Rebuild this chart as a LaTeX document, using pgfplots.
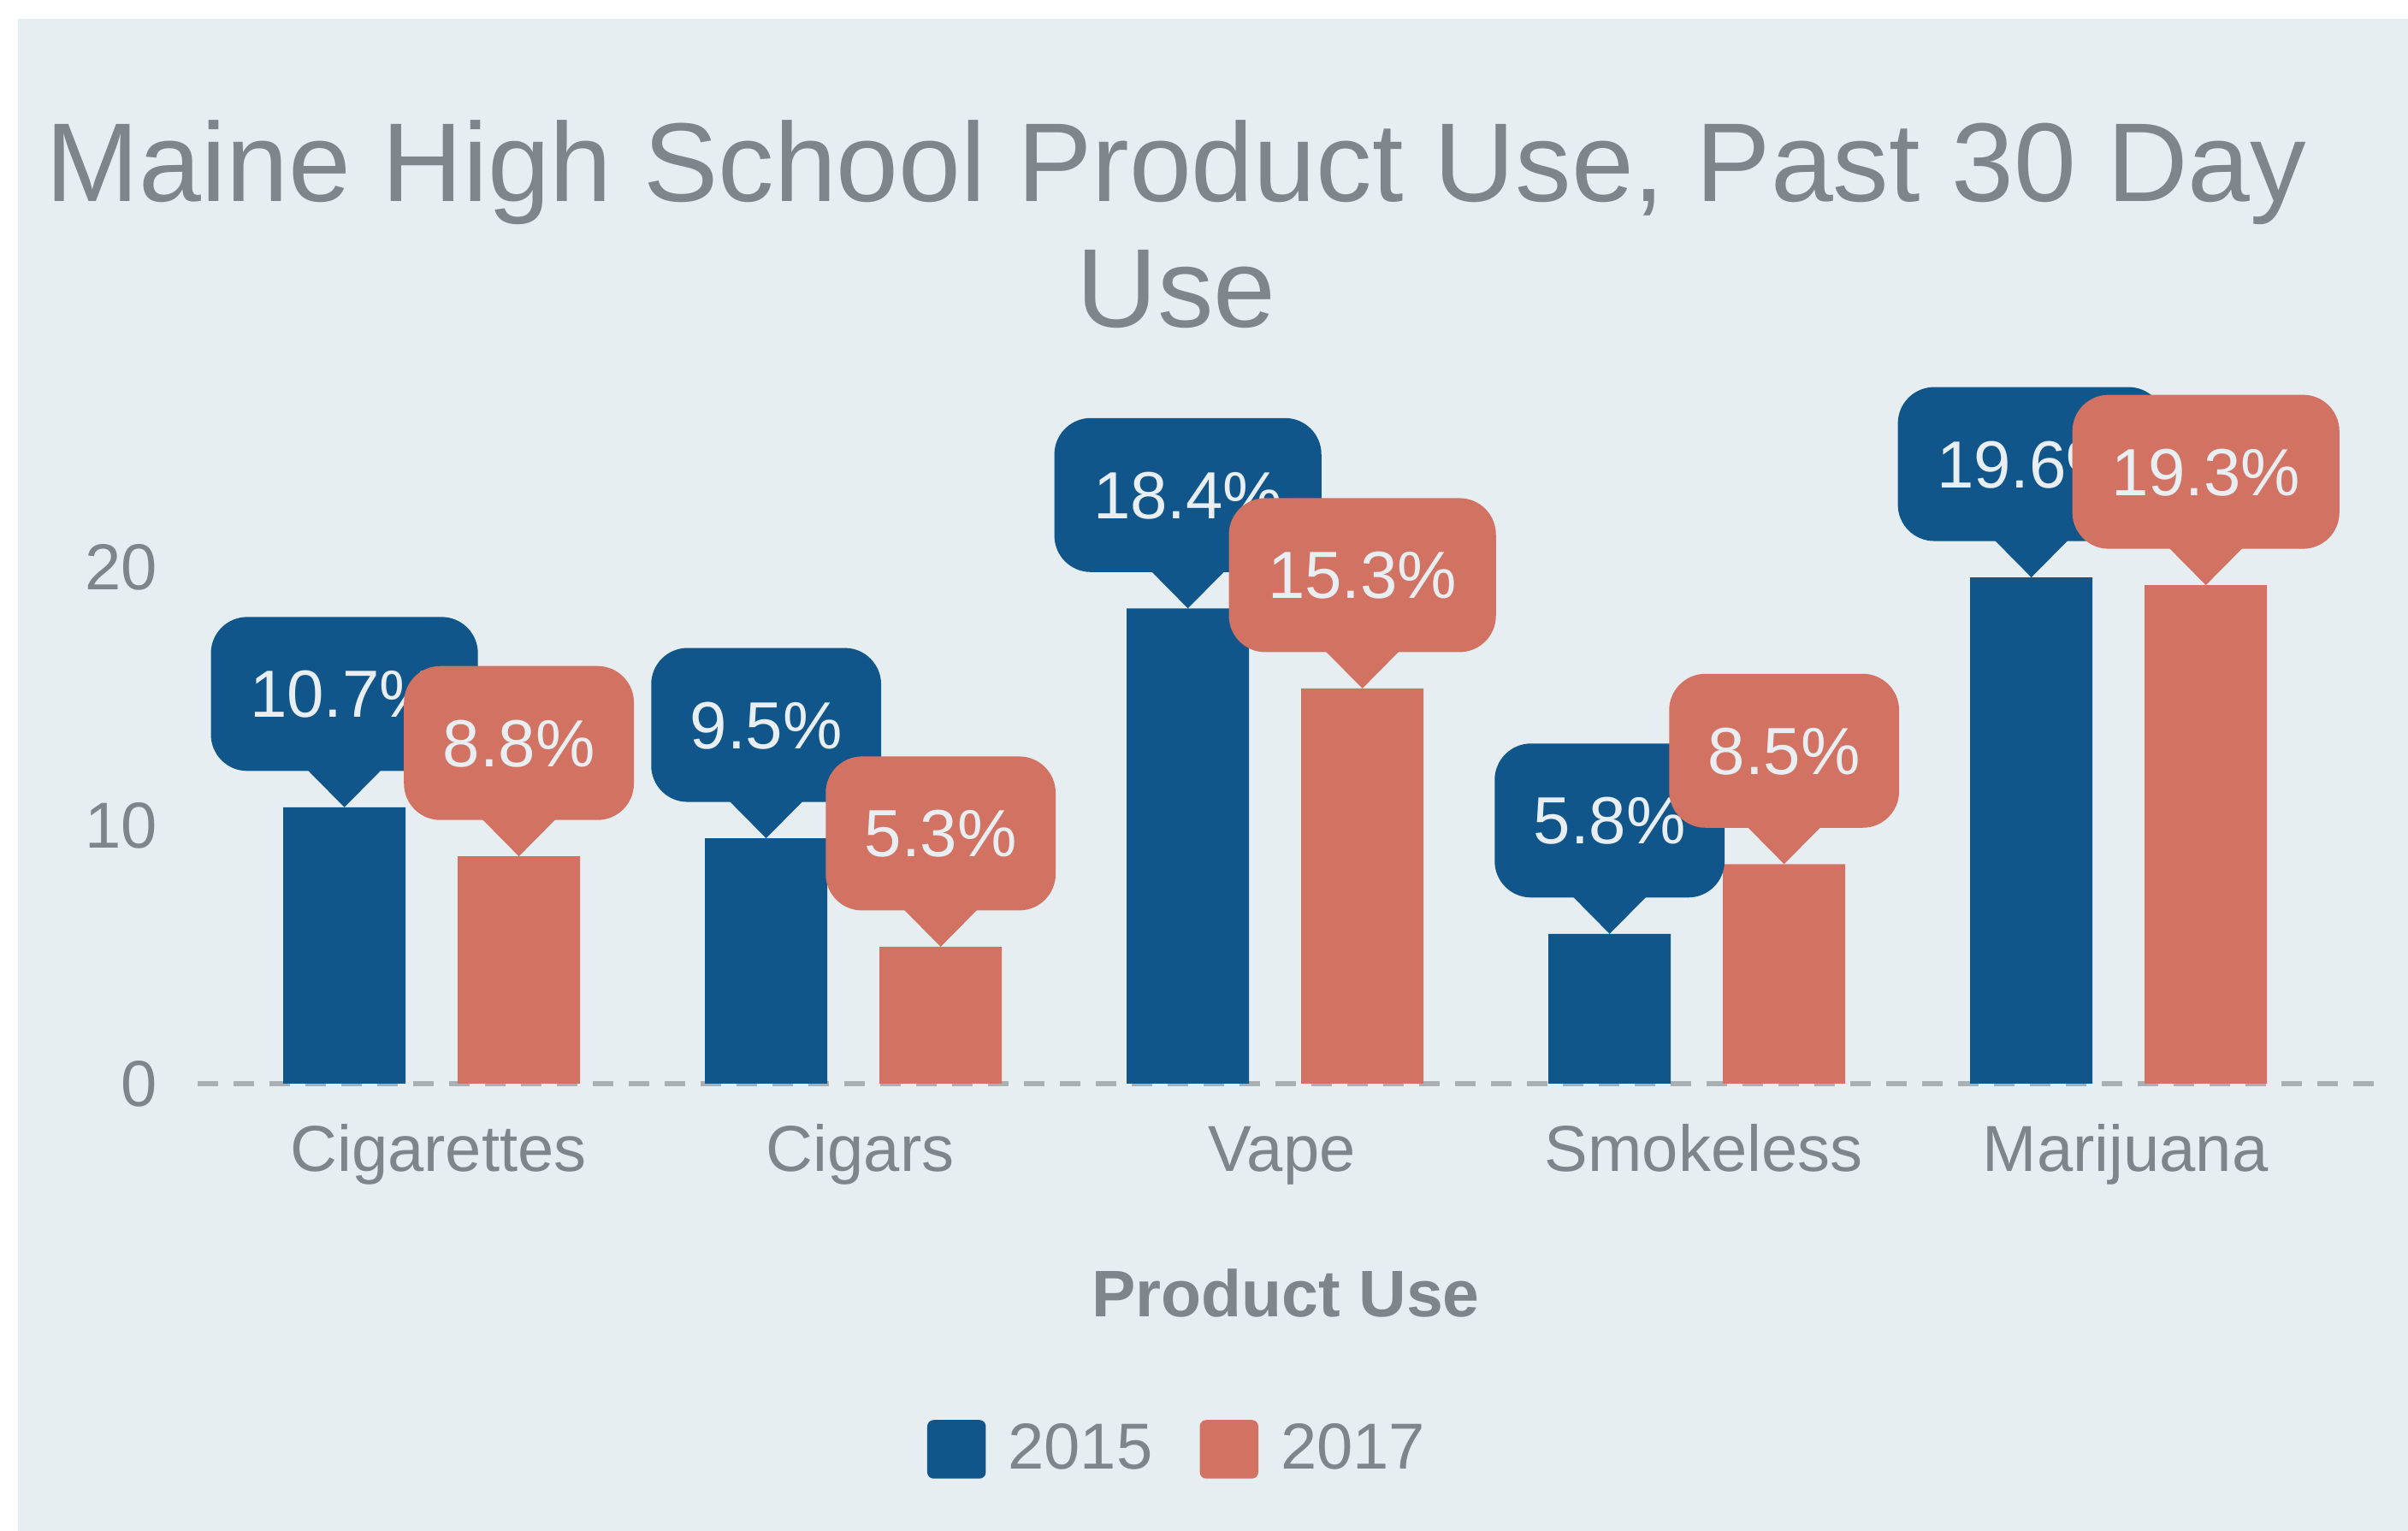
\documentclass[border=0pt]{standalone}
\usepackage{pgfplots}
\pgfplotsset{compat=1.18}
\usepackage{fontspec}
\setmainfont{Liberation Sans}
\definecolor{cblue}{HTML}{10568A}
\definecolor{cred}{HTML}{D17262}
\definecolor{bgc}{HTML}{E6EEF1}
\definecolor{txt}{HTML}{7F868B}
\definecolor{dashc}{HTML}{A8B0B4}
\definecolor{lbl}{HTML}{E8EEF1}
\tikzset{
  callout/.style={fill=#1, draw=none, text=lbl, rounded corners=8.5pt, inner xsep=9.1pt, inner ysep=0pt,
    minimum height=36pt, text height=11pt, text depth=0pt, anchor=south, yshift=8.3pt,
    font=\fontsize{15.6}{18}\selectfont,
    append after command={\pgfextra{\pgfinterruptpath
      \fill[#1, sharp corners] ([xshift=-8.7pt,yshift=0.5pt]\tikzlastnode.south) -- ([xshift=8.7pt,yshift=0.5pt]\tikzlastnode.south) -- ([yshift=-8.3pt]\tikzlastnode.south) -- cycle;
      \endpgfinterruptpath}}}
}
\pgfplotsset{
  legsq/.style={legend image code/.code={\fill[#1,rounded corners=1.5pt] (0pt,-6.8pt) rectangle (13.7pt,6.9pt);}},
}
\begin{document}
\begin{tikzpicture}
\fill[white] (0,0) rectangle (563pt,358pt);
\fill[bgc] (4.2pt,0) rectangle (563pt,353.6pt);
\begin{axis}[
  at={(46.2pt,104.6pt)}, anchor=south west,
  scale only axis, width=508.8pt, height=151pt,
  xmin=-0.555, xmax=4.605, ymin=0, ymax=25,
  clip=false,
  axis line style={draw=none},
  major tick length=0pt,
  xtick={0,1,2,3,4},
  xticklabels={Cigarettes,Cigars,Vape,Smokeless,Marijuana},
  ytick={0,10,20},
  extra y ticks={0}, extra y tick labels={},
  extra y tick style={ymajorgrids=true, major grid style={draw=dashc, line width=1.2pt, dash pattern=on 4.8pt off 3.6pt}},
  tick label style={font=\fontsize{15.2}{18}\selectfont, text=txt},
  yticklabel style={anchor=east, inner sep=0pt, xshift=-9.2pt},
  xticklabel style={anchor=base, inner sep=0pt, yshift=-20.6pt, xshift=1.6pt},
  /pgf/number format/assume math mode=true,
  xlabel={Product Use},
  xlabel style={at={(axis description cs:0.5,0)}, anchor=base, inner sep=0pt, yshift=-54.6pt, font=\bfseries\fontsize{15.4}{18}\selectfont, text=txt},
  title={Maine High School Product Use, Past 30 Day\\Use},
  title style={at={(axis description cs:0.4497,1)}, anchor=north, yshift=68.4pt, inner sep=0pt, align=center, font=\fontsize{26.2}{29.4}\selectfont, text=txt},
  legend style={at={(axis description cs:0.3349,-0.5669)}, anchor=west, yshift=0.1pt, draw=none, fill=none,
    legend columns=2, font=\fontsize{15.2}{18}\selectfont, text=txt, inner sep=0pt,
    nodes={inner sep=0pt},
    /tikz/every odd column/.append style={column sep=5.2pt},
    /tikz/every even column/.append style={column sep=11pt}},
  legend cell align=left,
  ybar, bar width=28.6pt,
  nodes near coords={\pgfmathprintnumber[fixed,fixed zerofill,precision=1]{\pgfplotspointmeta}\%},
]
\addplot[fill=cblue, draw=none, bar shift=-20.4pt, legsq=cblue,
  every node near coord/.append style={callout=cblue}]
  coordinates {(0,10.7) (1,9.5) (2,18.4) (3,5.8) (4,19.6)};
\addlegendentry{2015}
\addplot[fill=cred, draw=none, bar shift=20.4pt, legsq=cred,
  every node near coord/.append style={callout=cred}]
  coordinates {(0,8.8) (1,5.3) (2,15.3) (3,8.5) (4,19.3)};
\addlegendentry{2017}
\end{axis}
\end{tikzpicture}
\end{document}
